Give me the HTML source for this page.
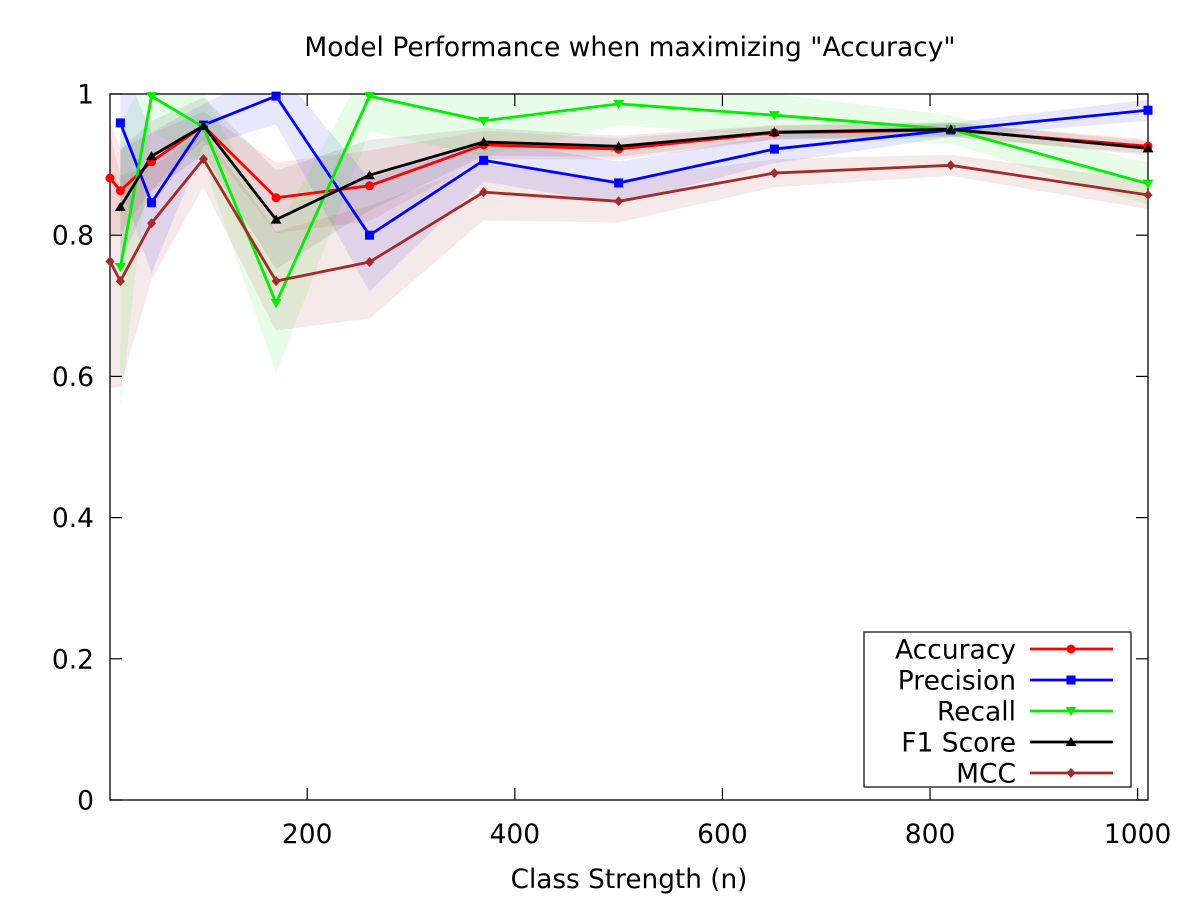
<!DOCTYPE html>
<html><head><meta charset="utf-8"><style>
html,body{margin:0;padding:0;background:#fff}
svg{display:block;font-family:"DejaVu Sans","Liberation Sans",sans-serif}
</style></head><body>
<svg id="chart" width="1200" height="900" viewBox="0 0 1200 900" xmlns="http://www.w3.org/2000/svg">
<defs><clipPath id="plotclip"><rect x="110" y="94" width="1038" height="706"/></clipPath></defs>
<rect width="1200" height="900" fill="#fff"/>
<text x="630" y="56" text-anchor="middle" font-size="26.5" font-family="DejaVu Sans, sans-serif">Model Performance when maximizing "Accuracy"</text>
<g id="bands" clip-path="url(#plotclip)"></g>
<g id="lines" clip-path="url(#plotclip)"></g>
<g id="axes"></g>
<g id="markers"></g>
<text x="629" y="888" text-anchor="middle" font-size="26.3" font-family="DejaVu Sans, sans-serif">Class Strength (n)</text>
<g id="legend"></g>
</svg>
<script>
const xValues = [10, 20, 50, 100, 170, 260, 370, 500, 650, 820, 1010];
const accuracy = [0.881, 0.863, 0.904, 0.955, 0.853, 0.870, 0.928, 0.922, 0.945, 0.949, 0.926];
const precision = [null, 0.959, 0.846, 0.956, 0.997, 0.800, 0.906, 0.874, 0.922, 0.949, 0.977];
const recall = [null, 0.755, 0.997, 0.953, 0.704, 0.997, 0.962, 0.986, 0.970, 0.950, 0.873];
const f1 = [null, 0.840, 0.912, 0.955, 0.822, 0.885, 0.932, 0.926, 0.946, 0.950, 0.923];
const mcc = [0.763, 0.735, 0.817, 0.908, 0.735, 0.762, 0.861, 0.848, 0.888, 0.899, 0.857];
const accuracyStd = [0.08, 0.06, 0.04, 0.02, 0.05, 0.05, 0.02, 0.015, 0.01, 0.01, 0.01];
const precisionStd = [null, 0.09, 0.10, 0.03, 0.04, 0.08, 0.03, 0.03, 0.02, 0.01, 0.015];
const recallStd = [null, 0.2, 0.05, 0.05, 0.1, 0.05, 0.05, 0.03, 0.03, 0.02, 0.03];
const f1Std = [null, 0.08, 0.05, 0.04, 0.07, 0.05, 0.02, 0.015, 0.01, 0.01, 0.01];
const mccStd = [0.18, 0.15, 0.08, 0.04, 0.07, 0.08, 0.04, 0.03, 0.02, 0.015, 0.02];
const xTicks = [200, 400, 600, 800, 1000];
const yTicks = [0, 0.2, 0.4, 0.6, 0.8, 1];
const yTickLabels = ["0", "0.2", "0.4", "0.6", "0.8", "1"];
const seriesNames = ["Accuracy", "Precision", "Recall", "F1 Score", "MCC"];

const L=110,R=1148,T=94,B=800,XMIN=10,XMAX=1010;
const sx=v=>L+(v-XMIN)/(XMAX-XMIN)*(R-L);
const sy=v=>B-v*(B-T);
const NS="http://www.w3.org/2000/svg";
const FS=26.5;
function mk(tag,attrs,parent){const e=document.createElementNS(NS,tag);for(const k in attrs)e.setAttribute(k,attrs[k]);parent.appendChild(e);return e;}
const series=[
 {name:"accuracy",vals:accuracy,std:accuracyStd,color:"#ff0000",band:"rgba(220,60,60,0.12)",marker:"circle"},
 {name:"precision",vals:precision,std:precisionStd,color:"#0000ff",band:"rgba(60,60,255,0.12)",marker:"square"},
 {name:"recall",vals:recall,std:recallStd,color:"#00ee00",band:"rgba(60,240,60,0.12)",marker:"tridown"},
 {name:"f1-score",vals:f1,std:f1Std,color:"#000000",band:"rgba(0,0,0,0.08)",marker:"triup"},
 {name:"mcc",vals:mcc,std:mccStd,color:"#a52a2a",band:"rgba(165,42,42,0.10)",marker:"diamond"}];
const bandsG=document.getElementById('bands'),linesG=document.getElementById('lines'),markG=document.getElementById('markers'),axG=document.getElementById('axes'),legG=document.getElementById('legend');
function drawMarker(type,x,y,color,parent,name){
 let e;
 if(type==="circle")e=mk("circle",{cx:x,cy:y,r:4.5,fill:color},parent);
 else if(type==="square")e=mk("rect",{x:x-4.5,y:y-4.5,width:9,height:9,fill:color},parent);
 else if(type==="tridown")e=mk("polygon",{points:`${x-5.5},${y-4} ${x+5.5},${y-4} ${x},${y+5}`,fill:color},parent);
 else if(type==="triup")e=mk("polygon",{points:`${x-5.5},${y+4} ${x+5.5},${y+4} ${x},${y-5}`,fill:color},parent);
 else e=mk("polygon",{points:`${x},${y-5} ${x+4.5},${y} ${x},${y+5} ${x-4.5},${y}`,fill:color},parent);
 
 
}
series.forEach(s=>{
 const idx=xValues.map((_,i)=>i).filter(i=>s.vals[i]!==null);
 const up=idx.map(i=>`${sx(xValues[i])},${sy(s.vals[i]+s.std[i])}`);
 const lo=idx.slice().reverse().map(i=>`${sx(xValues[i])},${sy(s.vals[i]-s.std[i])}`);
 const band=mk("polygon",{points:up.concat(lo).join(" "),fill:s.band},bandsG);
 
 
 const line=mk("polyline",{points:idx.map(i=>`${sx(xValues[i])},${sy(s.vals[i])}`).join(" "),fill:"none",stroke:s.color,"stroke-width":2.8},linesG);
 
 
 idx.forEach(i=>drawMarker(s.marker,sx(xValues[i]),sy(s.vals[i]),s.color,markG,s.name+'-point'));
});
const frame=mk("rect",{x:L,y:T,width:R-L,height:B-T,fill:"none",stroke:"#000","stroke-width":1.3},axG);


yTicks.forEach((v,i)=>{
 const y=sy(v);
 mk("line",{x1:L,x2:L+12,y1:y,y2:y,stroke:"#000","stroke-width":1.2},axG);
 mk("line",{x1:R-12,x2:R,y1:y,y2:y,stroke:"#000","stroke-width":1.2},axG);
 const t=mk("text",{x:94,y:y+9.5,"text-anchor":"end","font-size":FS,"font-family":"DejaVu Sans, sans-serif"},axG);
 t.textContent=yTickLabels[i];
 
 
});
xTicks.forEach(v=>{
 const x=sx(v);
 mk("line",{x1:x,x2:x,y1:B,y2:B-12,stroke:"#000","stroke-width":1.2},axG);
 mk("line",{x1:x,x2:x,y1:T,y2:T+12,stroke:"#000","stroke-width":1.2},axG);
 const t=mk("text",{x:x,y:843,"text-anchor":"middle","font-size":FS,"font-family":"DejaVu Sans, sans-serif"},axG);
 t.textContent=String(v);
 
 
});
const lb=mk("rect",{x:864,y:632,width:267,height:155,fill:"#fff",stroke:"#000","stroke-width":1.2},legG);


series.forEach((s,i)=>{
 const y=649+i*31;
 const g=mk("g",{},legG);
 
 
 const t=mk("text",{x:1016,y:y+9.5,"text-anchor":"end","font-size":FS,"font-family":"DejaVu Sans, sans-serif"},g);
 t.textContent=seriesNames[i];
 mk("line",{x1:1030,x2:1113,y1:y,y2:y,stroke:s.color,"stroke-width":2.8},g);
 drawMarker(s.marker,1071,y,s.color,g,'legend-marker');
});
</script>
</body></html>
